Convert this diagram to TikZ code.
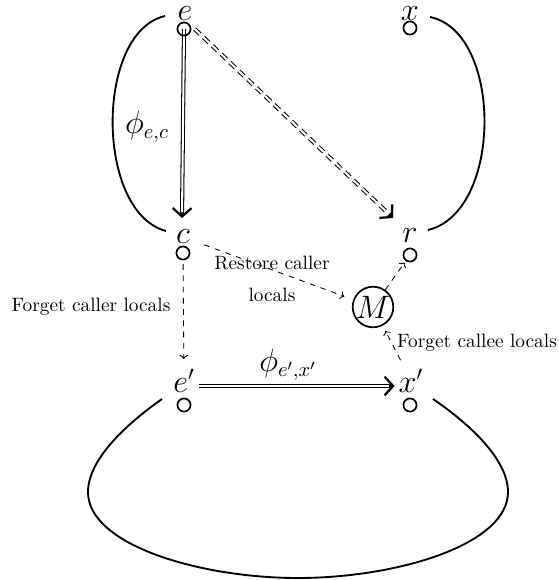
\documentclass[tikz,border=0pt]{standalone}
\usetikzlibrary{arrows.meta,calc}
\pgfdeclarelayer{bg}
\pgfsetlayers{bg,main}
\begin{document}
\begin{tikzpicture}[x=0.5333pt,y=-0.5333pt,
  dot/.style={circle,draw,line width=0.9pt,minimum size=7pt,inner sep=0pt},
  lbl/.style={inner sep=0pt,font=\fontsize{16}{18}\selectfont},
  txt/.style={inner sep=1pt,font=\fontsize{10.3}{12.4}\selectfont},
  arcline/.style={line width=1pt},
  dblk/.style={line width=2.2pt,-{Straight Barb[length=4.5pt,width=10pt,line width=1.2pt]}},
  dblw/.style={white,line width=1.1pt},
  dsh/.style={dashed,line width=0.45pt,-{To[length=2.2pt,width=4.5pt]}},
]
\useasboundingbox (0,0) rectangle (559,580);

% points and their labels
\node[dot] (e) at (184,29) {};
\node[lbl] (le) at (185,13.5) {$e$};
\node[dot] (x) at (410,28) {};
\node[lbl] (lx) at (410,14) {$x$};
\node[dot] (c) at (183,253) {};
\node[lbl] (lc) at (183,237) {$c$};
\node[dot] (r) at (410,255) {};
\node[lbl] (lr) at (410,236) {$r$};
\node[lbl,circle,draw,line width=0.9pt,minimum size=19pt] (M) at (373,307) {$M$};
\node[dot] (e2) at (184,405) {};
\node[lbl,anchor=base] (le2) at (184,392) {$e'$};
\node[dot] (x2) at (410,405) {};
\node[lbl,anchor=base] (lx2) at (411,392) {$x'$};

\coordinate (ctip) at (182,218);
\coordinate (rtip) at (393,218);

% text labels
\node[lbl] (phiec) at (147,127) {$\phi_{e,c}$};
\node[lbl] (phiex) at (288,365) {$\phi_{e',x'}$};
\node[txt] (tf1) at (91,307) {Forget caller locals};
\node[txt,align=center] (tr) at (272,279) {Restore caller\\[5pt]locals};
\node[txt] (tf2) at (477,343) {Forget callee locals};

% arcs
\draw[arcline] (165,16) .. controls (95,32) and (95,212) .. (166,231);
\draw[arcline] (430,17) .. controls (503,32) and (503,212) .. (428,230);
\draw[arcline] (162,399) .. controls (125,425) and (88,460) .. (88,492)
  .. controls (88,545) and (200,578) .. (298,578)
  .. controls (396,578) and (508,545) .. (508,492)
  .. controls (508,460) and (471,425) .. (433,399);

\begin{pgfonlayer}{bg}
% double arrows
\draw[dblk] (e.center) -- (ctip);
\draw[dblw,shorten >=3pt] (e.center) -- (ctip);
\draw[dblk,dash pattern=on 4pt off 2.5pt,shorten <=4pt] (e.north east) -- (rtip);
\draw[dblw,dash pattern=on 4pt off 2.5pt,shorten <=4pt,shorten >=3pt] (e.north east) -- (rtip);
\draw[dblk,shorten <=2pt,shorten >=2pt] ([yshift=3.2pt]le2.base east) -- ([yshift=3.2pt]lx2.base west);
\draw[dblw,shorten <=2pt,shorten >=5pt] ([yshift=3.2pt]le2.base east) -- ([yshift=3.2pt]lx2.base west);
\end{pgfonlayer}

% dashed arrows
\draw[dsh,shorten <=2pt,shorten >=5pt] (c) -- (le2);
\draw[dsh,shorten <=8pt,shorten >=5pt] (lc) -- (M);
\draw[dsh,shorten >=1pt] (M) -- (r);
\draw[dsh,shorten <=5pt,shorten >=3pt] (lx2) -- (M);
\end{tikzpicture}
\end{document}
